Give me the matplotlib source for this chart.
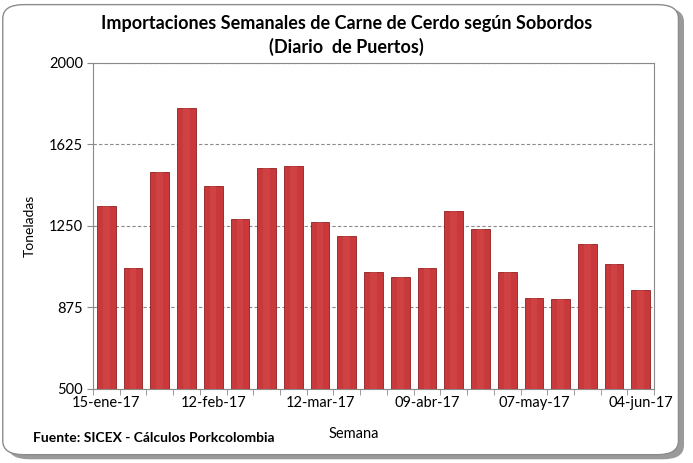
import numpy as np
import matplotlib.pyplot as plt
from matplotlib.patches import FancyBboxPatch

# Semanas y toneladas
semanas = ['15-ene-17', '22-ene-17', '29-ene-17', '05-feb-17', '12-feb-17', '19-feb-17',
           '26-feb-17', '05-mar-17', '12-mar-17', '19-mar-17', '26-mar-17', '02-abr-17',
           '09-abr-17', '16-abr-17', '23-abr-17', '30-abr-17', '07-may-17', '14-may-17',
           '21-may-17', '28-may-17', '04-jun-17']
toneladas = [1341, 1056, 1498, 1795, 1436, 1280, 1518, 1524, 1268, 1206, 1037,
             1016, 1056, 1321, 1238, 1037, 920, 914, 1166, 1077, 956]
yticks = [500, 875, 1250, 1625, 2000]

plt.rcParams['font.family'] = ['Lato', 'DejaVu Sans']

fig = plt.figure(figsize=(6.93, 4.63), dpi=100)

# marco redondeado con sombra
shadow = FancyBboxPatch((0.012, 0.008), 0.975, 0.975, boxstyle='round,pad=0,rounding_size=0.03',
                        transform=fig.transFigure, facecolor='#9a9a9a', edgecolor='none', zorder=0)
frame = FancyBboxPatch((0.004, 0.018), 0.975, 0.972, boxstyle='round,pad=0,rounding_size=0.03',
                       transform=fig.transFigure, facecolor='white', edgecolor='#8c8c8c',
                       linewidth=1.0, zorder=1)
fig.patches.extend([shadow, frame])

ax = fig.add_axes([0.134, 0.160, 0.810, 0.704])
ax.set_zorder(2)

x = np.arange(len(semanas))
ax.bar(x, toneladas, width=0.7, bottom=0, color='#C9383A', edgecolor='#8E1E20',
       linewidth=0.6, zorder=3)
# brillo central de las barras
ax.bar(x, np.array(toneladas), width=0.25, color='#D44A4A', linewidth=0, zorder=4, alpha=0.6)

ax.set_ylim(500, 2000)
ax.set_xlim(-0.5, len(semanas) - 0.5)
ax.set_yticks(yticks)
ax.set_yticklabels([str(v) for v in yticks], fontsize=10.5)
ax.yaxis.grid(True, linestyle=(0, (3, 2)), color='#8a8a8a', linewidth=0.8, zorder=0)

idx = list(range(0, len(semanas), 4))
ax.set_xticks(idx)
ax.set_xticklabels([semanas[i] for i in idx], fontsize=10.5)
ax.tick_params(axis='x', length=0, pad=5)
ax.set_xticks(np.arange(-0.5, len(semanas), 1), minor=True)
ax.tick_params(axis='x', which='minor', length=4, color='#8a8a8a')
ax.tick_params(axis='y', length=4, color='#8a8a8a', pad=3)

for s in ax.spines.values():
    s.set_color('#8a8a8a')

fig.text(0.043, 0.512, 'Toneladas', rotation=90, ha='center', va='center', fontsize=10)
fig.text(0.511, 0.063, 'Semana', ha='center', va='center', fontsize=10.5)

fig.text(0.5, 0.950, 'Importaciones Semanales de Carne de Cerdo según Sobordos',
         ha='center', va='center', fontsize=13, fontweight='bold')
fig.text(0.5, 0.898, '(Diario  de Puertos)',
         ha='center', va='center', fontsize=13, fontweight='bold')
fig.text(0.048, 0.054, 'Fuente: SICEX - Cálculos Porkcolombia', ha='left', va='center',
         fontsize=10, fontweight='bold')

fig.savefig('out.png', dpi=100)
